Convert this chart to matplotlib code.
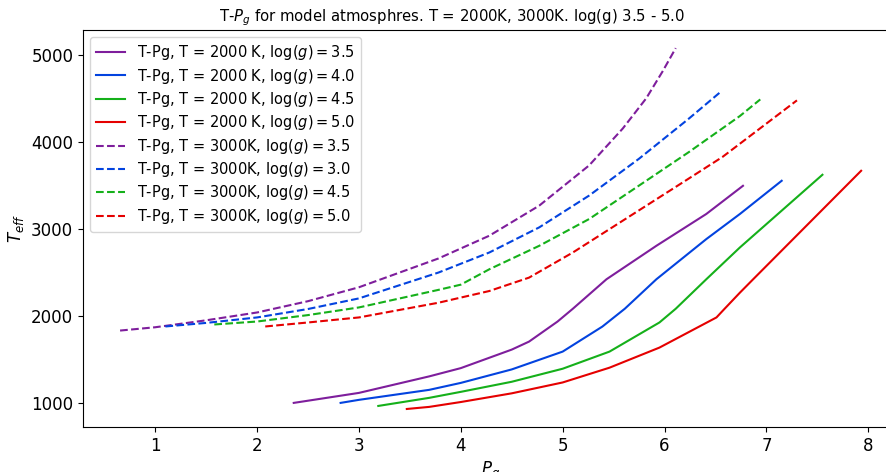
import matplotlib
matplotlib.use('Agg')
import matplotlib.pyplot as plt

# T = 2000 K models (solid)
pg_2000_35 = [2.36, 3.0, 3.69, 4.0, 4.5, 4.67, 4.95, 5.1, 5.43, 5.92, 6.41, 6.77]
t_2000_35 = [1000, 1115, 1305, 1400, 1613, 1705, 1936, 2083, 2422, 2807, 3173, 3497]
pg_2000_40 = [2.82, 3.0, 3.69, 4.0, 4.5, 5.0, 5.39, 5.61, 5.92, 6.41, 6.74, 7.15]
t_2000_40 = [1000, 1035, 1150, 1230, 1385, 1590, 1878, 2083, 2422, 2884, 3173, 3555]
pg_2000_45 = [3.19, 3.69, 4.0, 4.5, 5.0, 5.46, 5.95, 6.11, 6.41, 6.74, 7.55]
t_2000_45 = [965, 1058, 1127, 1243, 1393, 1590, 1925, 2083, 2422, 2788, 3624]
pg_2000_50 = [3.47, 3.69, 4.0, 4.5, 5.0, 5.46, 5.95, 6.51, 6.59, 6.74, 6.87, 7.93]
t_2000_50 = [930, 954, 1010, 1110, 1235, 1405, 1636, 1983, 2083, 2268, 2422, 3670]

# T = 3000 K models (dashed)
pg_3000_35 = [0.655, 1.0, 1.5, 2.0, 2.5, 3.0, 3.78, 4.28, 4.77, 5.26, 5.59, 5.82, 5.98, 6.11]
t_3000_35 = [1832, 1870, 1950, 2040, 2170, 2330, 2661, 2923, 3269, 3732, 4156, 4503, 4811, 5081]
pg_3000_30 = [1.10, 1.5, 2.0, 2.5, 3.0, 3.78, 4.28, 4.77, 5.26, 5.75, 6.24, 6.56]
t_3000_30 = [1879, 1920, 1983, 2080, 2202, 2499, 2730, 3019, 3385, 3809, 4271, 4587]
pg_3000_45 = [1.58, 2.0, 2.5, 3.0, 3.78, 4.0, 4.28, 4.77, 5.26, 5.75, 6.24, 6.74, 6.94]
t_3000_45 = [1902, 1936, 2010, 2098, 2300, 2360, 2537, 2807, 3115, 3500, 3886, 4300, 4491]
pg_3000_50 = [2.08, 2.5, 3.0, 3.78, 4.28, 4.67, 5.10, 5.59, 6.08, 6.57, 7.30]
t_3000_50 = [1879, 1925, 1983, 2152, 2287, 2441, 2730, 3096, 3462, 3830, 4480]

colors = ['xkcd:purple', 'xkcd:blue', 'xkcd:green', 'xkcd:red']

fig = plt.figure(figsize=(8.87, 4.72), dpi=100)
ax = fig.add_axes([0.0936, 0.0953, 0.919, 0.841])

ax.plot(pg_2000_35, t_2000_35, color=colors[0], label=r'T-Pg, T = 2000 K, $\log(g) = 3.5$')
ax.plot(pg_2000_40, t_2000_40, color=colors[1], label=r'T-Pg, T = 2000 K, $\log(g) = 4.0$')
ax.plot(pg_2000_45, t_2000_45, color=colors[2], label=r'T-Pg, T = 2000 K, $\log(g) = 4.5$')
ax.plot(pg_2000_50, t_2000_50, color=colors[3], label=r'T-Pg, T = 2000 K, $\log(g) = 5.0$')
ax.plot(pg_3000_35, t_3000_35, '--', color=colors[0], label=r'T-Pg, T = 3000K, $\log(g) = 3.5$')
ax.plot(pg_3000_30, t_3000_30, '--', color=colors[1], label=r'T-Pg, T = 3000K, $\log(g) = 3.0$')
ax.plot(pg_3000_45, t_3000_45, '--', color=colors[2], label=r'T-Pg, T = 3000K, $\log(g) = 4.5$')
ax.plot(pg_3000_50, t_3000_50, '--', color=colors[3], label=r'T-Pg, T = 3000K, $\log(g) = 5.0$')

ax.legend(loc='upper left', fontsize=10.5, labelspacing=0.3)
ax.tick_params(labelsize=12)
ax.set_xlabel(r'$P_g$', fontsize=12)
ax.set_ylabel(r'$T_{eff}$', fontsize=12)
ax.set_title(r'T-$P_g$ for model atmosphres. T = 2000K, 3000K. log(g) 3.5 - 5.0', fontsize=10.7, x=0.453)

fig.savefig('out.png', dpi=100)
